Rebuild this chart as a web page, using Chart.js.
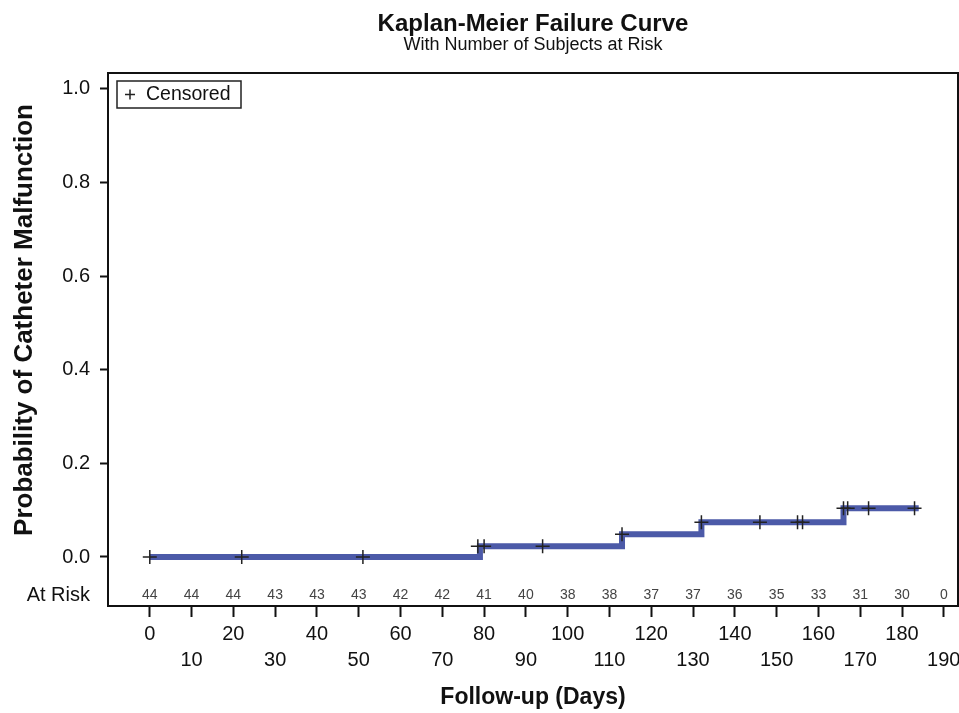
<!DOCTYPE html>
<html>
<head>
<meta charset="utf-8">
<script src="https://cdn.jsdelivr.net/npm/chart.js@4"></script>
<style>
  html, body { margin: 0; padding: 0; background: #fff; }
  #wrap { width: 959px; height: 713px; }
</style>
</head>
<body>
<div id="wrap"><canvas id="kmChart" width="959" height="713"></canvas></div>
<script>
// data
const stepDays = [0, 79, 113, 132, 166, 184];
const failureProb = [0, 0.0227, 0.0484, 0.0742, 0.104, 0.104];

const censorDays = [0, 22, 51, 78.5, 80, 94, 113, 132, 146, 155, 156.2, 166, 167, 172, 183];
const censorProb = [0, 0, 0, 0.0227, 0.0227, 0.0227, 0.0484, 0.0742, 0.0742, 0.0742, 0.0742, 0.104, 0.104, 0.104, 0.104];

const atRiskDays = [0, 10, 20, 30, 40, 50, 60, 70, 80, 90, 100, 110, 120, 130, 140, 150, 160, 170, 180, 190];
const atRiskCounts = [44, 44, 44, 43, 43, 43, 42, 42, 41, 40, 38, 38, 37, 37, 36, 35, 33, 31, 30, 0];

const xTickValues = [0, 10, 20, 30, 40, 50, 60, 70, 80, 90, 100, 110, 120, 130, 140, 150, 160, 170, 180, 190];
const yTickValues = [0, 0.2, 0.4, 0.6, 0.8, 1.0];

const FONT = "'Liberation Sans', Arial, sans-serif";

// frame, legend box, y title and at-risk row
const extras = {
  id: 'extras',
  afterLayout(chart) {
    // center title + subtitle over the plot area
    const a = chart.chartArea;
    chart.boxes.forEach(function(b) {
      if (b.position === 'top' && b.options && b.options.text) {
        b.left = a.left;
        b.right = a.right;
      }
    });
  },
  afterDatasetsDraw(chart) {
    const ctx = chart.ctx;
    const a = chart.chartArea;
    const x = chart.scales.x;
    ctx.save();
    ctx.strokeStyle = '#111';
    ctx.lineWidth = 2;
    ctx.beginPath();
    ctx.moveTo(a.left, a.top);
    ctx.lineTo(a.right, a.top);
    ctx.lineTo(a.right, a.bottom);
    ctx.stroke();

    // at risk numbers
    ctx.fillStyle = '#444';
    ctx.font = '14px ' + FONT;
    ctx.textAlign = 'center';
    ctx.textBaseline = 'middle';
    atRiskDays.forEach(function(d, i) {
      ctx.fillText(String(atRiskCounts[i]), x.getPixelForValue(d), a.bottom - 11);
    });
    ctx.fillStyle = '#111';
    ctx.font = '20px ' + FONT;
    ctx.textAlign = 'right';
    ctx.fillText('At Risk', a.left - 18, a.bottom - 11);

    // y axis title
    ctx.save();
    ctx.translate(25, 320);
    ctx.rotate(-Math.PI / 2);
    ctx.font = 'bold 26px ' + FONT;
    ctx.textAlign = 'center';
    ctx.fillText('Probability of Catheter Malfunction', 0, 0);
    ctx.restore();

    // legend
    const lx = a.left + 9, ly = a.top + 8;
    ctx.lineWidth = 1.5;
    ctx.strokeStyle = '#222';
    ctx.strokeRect(lx, ly, 124, 27);
    ctx.beginPath();
    ctx.moveTo(lx + 8, ly + 13.5); ctx.lineTo(lx + 18, ly + 13.5);
    ctx.moveTo(lx + 13, ly + 8.5); ctx.lineTo(lx + 13, ly + 18.5);
    ctx.stroke();
    ctx.fillStyle = '#111';
    ctx.font = '19.5px ' + FONT;
    ctx.textAlign = 'left';
    ctx.fillText('Censored', lx + 29, ly + 14);
    ctx.restore();
  }
};

const kmChart = new Chart(document.getElementById('kmChart'), {
  type: 'scatter',
  data: {
    datasets: [
      {
        label: 'Censored',
        data: censorDays.map(function(d, i) { return {x: d, y: censorProb[i]}; }),
        pointStyle: 'cross',
        pointRadius: 7,
        pointBorderWidth: 1.5,
        borderColor: '#222',
        backgroundColor: '#222',
        order: 0
      },
      {
        label: 'Failure',
        type: 'line',
        data: stepDays.map(function(d, i) { return {x: d, y: failureProb[i]}; }),
        stepped: 'before',
        borderColor: '#4c5aa8',
        borderWidth: 6,
        pointRadius: 0,
        fill: false,
        order: 1
      }
    ]
  },
  options: {
    responsive: false,
    animation: false,
    layout: { autoPadding: false, padding: { left: 0, right: 1, top: 0, bottom: 0 } },
    plugins: {
      legend: { display: false },
      tooltip: { enabled: false },
      title: {
        display: true,
        text: 'Kaplan-Meier Failure Curve',
        color: '#111',
        font: { family: FONT, size: 24, weight: 'bold', lineHeight: 1 },
        padding: { top: 12.5, bottom: 0 }
      },
      subtitle: {
        display: true,
        text: 'With Number of Subjects at Risk',
        color: '#111',
        font: { family: FONT, size: 18, lineHeight: 1 },
        padding: { top: 0, bottom: 18.5 }
      }
    },
    scales: {
      x: {
        type: 'linear',
        min: -10,
        max: 193.4,
        afterBuildTicks: function(scale) {
          scale.ticks = xTickValues.map(function(v) { return {value: v}; });
        },
        afterFit: function(scale) {
          scale.height = 107;
          scale.paddingLeft = 0;
          scale.paddingRight = 0;
        },
        grid: { drawOnChartArea: false, tickLength: 11, tickColor: '#111', tickWidth: 2 },
        border: { display: true, color: '#111', width: 2 },
        ticks: {
          autoSkip: false,
          maxRotation: 0,
          padding: 4,
          color: '#111',
          font: { family: FONT, size: 20, lineHeight: '26px' },
          callback: function(v) {
            return (v / 10) % 2 === 0 ? [String(v)] : ['', String(v)];
          }
        },
        title: {
          display: true,
          text: 'Follow-up (Days)',
          color: '#111',
          font: { family: FONT, size: 23, weight: 'bold' },
          padding: { top: 0, bottom: 1.7 }
        }
      },
      y: {
        min: -0.1047,
        max: 1.034,
        afterBuildTicks: function(scale) {
          scale.ticks = yTickValues.map(function(v) { return {value: v}; });
        },
        afterFit: function(scale) { scale.width = 108; },
        grid: { drawOnChartArea: false, tickLength: 8, tickColor: '#111', tickWidth: 2 },
        border: { display: true, color: '#111', width: 2 },
        ticks: {
          padding: 10,
          color: '#111',
          font: { family: FONT, size: 20 },
          callback: function(v) { return v.toFixed(1); }
        },
        title: { display: false }
      }
    }
  },
  plugins: [extras]
});
</script>
</body>
</html>
